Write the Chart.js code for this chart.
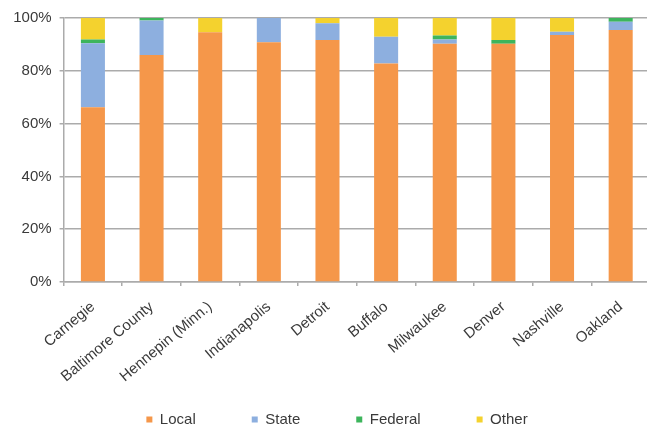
<!DOCTYPE html>
<html>
<head>
<meta charset="utf-8">
<script src="https://cdn.jsdelivr.net/npm/chart.js@4/dist/chart.umd.min.js"></script>
<style>
  html, body { margin: 0; padding: 0; background: #ffffff; overflow: hidden; }
  #wrap { width: 651px; height: 427px; }
</style>
</head>
<body>
<div id="wrap"><canvas id="c" width="651" height="427"></canvas></div>
<script>
// Share of funding by source (percent of total)
const categories = ['Carnegie', 'Baltimore County', 'Hennepin (Minn.)', 'Indianapolis', 'Detroit',
                    'Buffalo', 'Milwaukee', 'Denver', 'Nashville', 'Oakland'];
const localShare   = [66.2, 86.0, 94.6, 90.8, 91.7, 82.8, 90.2, 90.2, 93.6, 95.5];
const stateShare   = [24.2, 13.1,  0.0,  9.2,  6.3, 10.1,  1.7,  0.0,  1.2,  3.1];
const federalShare = [ 1.5,  0.9,  0.0,  0.0,  0.0,  0.0,  1.5,  1.5,  0.0,  1.4];
const otherShare   = [ 8.1,  0.0,  5.4,  0.0,  2.0,  7.1,  6.6,  8.3,  5.2,  0.0];
const seriesNames  = ['Local', 'State', 'Federal', 'Other'];
const yTicks = [0, 20, 40, 60, 80, 100];

const colors = ['#F5974A', '#8DAFDF', '#3DB55C', '#F4D22E'];
const axisGray = '#ababab';
const textGray = '#3a3a3a';
const font = { family: '"Liberation Sans", Arial, sans-serif', size: 15 };

const seriesValues = [localShare, stateShare, federalShare, otherShare];
const datasets = seriesNames.map((name, i) => ({
  label: name,
  data: seriesValues[i],
  backgroundColor: colors[i],
  borderWidth: 0,
  barPercentage: 0.41,
  categoryPercentage: 1.0,
  pointStyle: 'rect'
}));

// The legend uses wide item spacing; its box is widened upward after layout
// so that the row sits just above the bottom edge, under the rotated labels.
const legendPlacement = {
  id: 'legendPlacement',
  afterLayout(chart) {
    const lg = chart.legend;
    if (!lg) return;
    const h = 71;
    lg.left = 24;
    lg.top = chart.height - h;
    lg.bottom = chart.height;
    lg.height = h;
  }
};

new Chart(document.getElementById('c'), {
  type: 'bar',
  data: { labels: categories, datasets },
  plugins: [legendPlacement],
  options: {
    responsive: false,
    devicePixelRatio: 1,
    animation: false,
    layout: { padding: { left: 0, right: 1, top: 18, bottom: 0 } },
    plugins: {
      tooltip: { enabled: false },
      legend: {
        position: 'bottom',
        maxHeight: 25,
        labels: {
          usePointStyle: true,
          boxWidth: 6,
          boxHeight: 6,
          padding: 56,
          color: textGray,
          font
        }
      }
    },
    scales: {
      x: {
        stacked: true,
        afterFit: (s) => { s.height = 120; },
        grid: {
          drawOnChartArea: false,
          drawTicks: true,
          tickLength: 4,
          color: axisGray,
          lineWidth: 1.5
        },
        border: { color: axisGray, width: 1.5 },
        ticks: {
          color: textGray,
          font,
          autoSkip: false,
          maxRotation: 40,
          minRotation: 40,
          padding: 12
        }
      },
      y: {
        stacked: true,
        min: 0,
        max: 100,
        afterFit: (s) => { s.width = 63.6; },
        afterBuildTicks: (s) => { s.ticks = yTicks.map(v => ({ value: v })); },
        grid: {
          color: axisGray,
          lineWidth: 1.5,
          drawTicks: true,
          tickLength: 4
        },
        border: { color: axisGray, width: 1.5 },
        ticks: {
          color: textGray,
          font,
          padding: 8,
          callback: (v) => v + '%'
        }
      }
    }
  }
});
</script>
</body>
</html>
